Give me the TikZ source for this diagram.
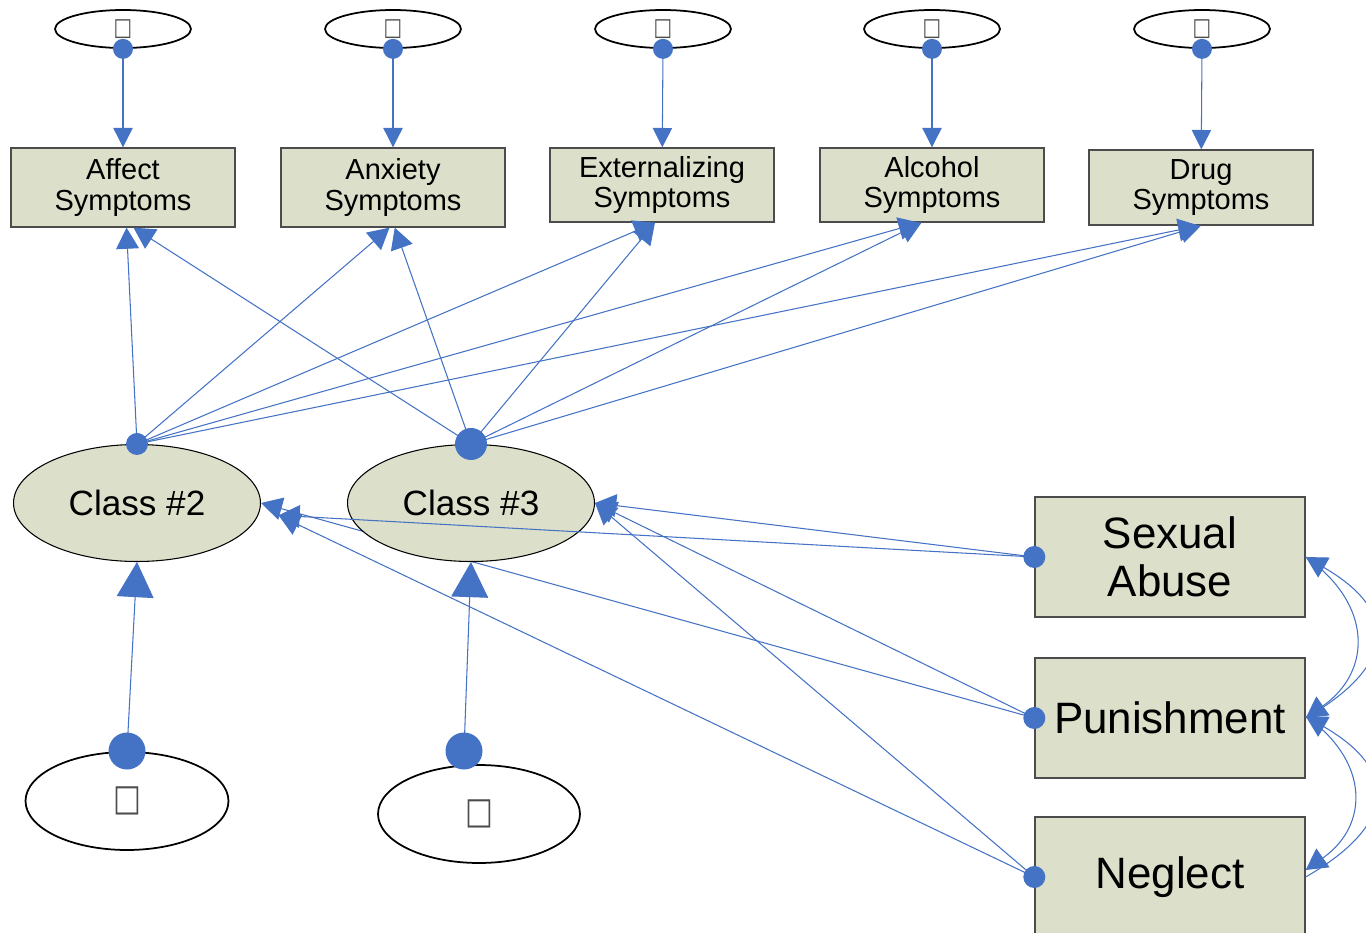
\documentclass[tikz,border=0pt]{standalone}
\usepackage{fontspec}
\usepackage{graphicx}
\setmainfont{Liberation Sans}
\newfontfamily\glyphfont{DejaVu Sans}
\usetikzlibrary{shapes.geometric,arrows.meta}
\definecolor{pathblue}{HTML}{4472C4}
\definecolor{boxfill}{HTML}{DCE0CA}
\newcommand{\tofu}{\scalebox{0.8}[1]{□}}
\tikzset{
  symbox/.style={draw=black!70,fill=boxfill,line width=0.8pt,minimum width=4.48cm,inner sep=0pt,align=center,font=\fontsize{16.5}{17.5}\selectfont},
  riskbox/.style={draw=black!70,fill=boxfill,line width=0.8pt,minimum width=5.4cm,minimum height=2.4cm,inner sep=0pt,align=center,font=\fontsize{25}{27}\selectfont},
  errell/.style={ellipse,draw,line width=1pt,fill=white,inner sep=0pt,minimum width=2.72cm,minimum height=0.76cm,text=black!70,font=\glyphfont\fontsize{14}{14}\selectfont},
  classell/.style={ellipse,draw,line width=0.6pt,fill=boxfill,inner sep=0pt,minimum width=4.94cm,minimum height=2.34cm,font=\fontsize{20}{24}\selectfont},
  dot/.style={circle,fill=pathblue,inner sep=0pt},
  link/.style={draw=pathblue,line width=0.6pt,-{Triangle[width=13pt,length=12pt]}}
}
\begin{document}
\begin{tikzpicture}[x=0.02cm,y=-0.02cm]
\useasboundingbox(0,0)rectangle(1366,933);
\foreach \x/\y/\h/\n/\a in {123/187.5/1.58/aff/{Affect\\Symptoms},393/187.5/1.58/anx/{Anxiety\\Symptoms},662/185/1.48/ext/{Externalizing\\Symptoms},932/185/1.48/alc/{Alcohol\\Symptoms},1201/187.5/1.5/drg/{Drug\\Symptoms}}{\node[symbox,minimum height=\h cm](\n) at (\x,\y){\a};}
\foreach \x/\n in {123/aff,393/anx,663/ext,932/alc,1202/drg}{
  \node[errell](e\n) at (\x,29){\raisebox{1pt}{\tofu}};
  \draw(e\n.south)node[dot,minimum size=0.4cm](d\n){};
  \draw[link,-{Triangle[width=11pt,length=11pt]}](d\n.center)--(\n);}
\node[classell](c2) at (137,503){Class \#2};
\draw(c2.north)node[dot,minimum size=0.44cm](c2d){};
\foreach \y/\n/\a in {557/sa/{Sexual\\Abuse},718/pun/Punishment,877/neg/Neglect}{
  \node[riskbox](\n) at (1170,\y){\a};
  \draw(\n.west)node[dot,minimum size=0.44cm](d\n){};}
\draw[link](dpun.center)--(c2.east);
\node[classell](c3) at (471,503){Class \#3};
\draw(c3.north)node[dot,minimum size=0.64cm](c3d){};
\node[errell,minimum width=4.06cm,minimum height=1.96cm,font=\glyphfont\fontsize{21}{21}\selectfont](u2) at (127,801){\tofu};
\node[errell,minimum width=4.04cm,minimum height=1.96cm,font=\glyphfont\fontsize{21}{21}\selectfont](u3) at (479,814){\tofu};
\node[dot,minimum size=0.74cm](u2d) at (127,751){};
\node[dot,minimum size=0.74cm](u3d) at (464,751){};
\draw[link,-{Triangle[width=21pt,length=20pt]}](u2d.center)--(c2.south);
\draw[link,-{Triangle[width=21pt,length=20pt]}](u3d.center)--(c3.south);
\foreach \n/\s in {aff/2pt,anx/-2pt,ext/-4pt,alc/-7pt,drg/-1pt}{\draw[link](c2d.center)--([xshift=\s]\n.south);}
\foreach \n/\s in {aff/6pt,anx/1pt,ext/-4pt,alc/-6pt,drg/0pt}{\draw[link](c3d.center)--([xshift=\s]\n.south);}
\draw[link](dsa.center)--(c3.east);
\draw[link](dsa.center)--([shift={(10pt,-7pt)}]c2.east);
\draw[link](dpun.center)--(c3.east);
\draw[link](dneg.center)--(c3.east);
\draw[link](dneg.center)--([shift={(10pt,-7pt)}]c2.east);
\draw[link](pun.east)to[bend right=60,looseness=1.7](sa.east);
\draw[link](sa.east)to[bend left=55,looseness=1.3](pun.east);
\draw[link](neg.east)to[bend right=60,looseness=1.7]([yshift=1pt]pun.east);
\draw[link]([yshift=1pt]pun.east)to[bend left=55,looseness=1.3]([yshift=4pt]neg.east);
\end{tikzpicture}
\end{document}
